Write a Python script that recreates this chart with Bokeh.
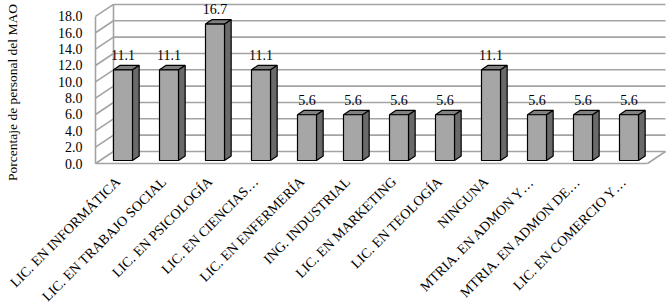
import math
from bokeh.plotting import figure
from bokeh.models import Range1d, FixedTicker, PrintfTickFormatter
from bokeh.core.properties import value
from bokeh.embed import file_html
from bokeh.resources import INLINE

# ---- data ----
categories = ["LIC. EN INFORMÁTICA", "LIC. EN TRABAJO SOCIAL", "LIC. EN PSICOLOGÍA",
              "LIC. EN CIENCIAS…", "LIC. EN ENFERMERÍA", "ING. INDUSTRIAL",
              "LIC. EN MARKETING", "LIC. EN TEOLOGÍA", "NINGUNA",
              "MTRIA. EN ADMON Y…", "MTRIA. EN ADMON DE…", "LIC. EN COMERCIO Y…"]
values = [11.1, 11.1, 16.7, 11.1, 5.6, 5.6, 5.6, 5.6, 11.1, 5.6, 5.6, 5.6]
y_ticks = [0, 2, 4, 6, 8, 10, 12, 14, 16, 18]
y_title = "Porcentaje de personal del MAO"

# ---- geometry (pseudo 3D) ----
W, H = 666, 304
CW = 46.0        # px per category
K = 8.17         # px per value unit
DX = 18 / CW     # depth offset in x units
DY = 12 / K      # depth offset in y units
F0, FD = 0.25, 0.37   # bar depth start / thickness (fraction of depth)
BW = 19 / CW     # bar front width
LAB_SHIFT = 5 / CW    # category label anchor sits a little left of the bar centre
N = len(categories)
YMAX = y_ticks[-1]
C0 = -0.5 - F0 * DX + LAB_SHIFT   # front-left corner of the floor (label i anchored at x = i)

xmin = C0 - 95 / CW
ymin = -(H - 163) / K

FONT = "Liberation Serif"
FS = "14px"

p = figure(width=W, height=H, output_backend="svg", toolbar_location=None, title=None,
           x_range=Range1d(xmin, xmin + W / CW),
           y_range=Range1d(ymin, ymin + H / K),
           min_border_left=0, min_border_right=0, min_border_top=0, min_border_bottom=0)
p.outline_line_color = None
p.xgrid.visible = False
p.ygrid.visible = False

ya = p.yaxis[0]
ya.fixed_location = C0
ya.ticker = FixedTicker(ticks=y_ticks)
ya.formatter = PrintfTickFormatter(format="%.1f")
ya.axis_line_color = None
ya.major_tick_line_color = None
ya.minor_tick_line_color = None
ya.major_tick_out = 0
ya.major_label_standoff = 13
ya.major_label_text_font = FONT
ya.major_label_text_font_size = FS
ya.major_label_text_color = "black"

xa = p.xaxis[0]
xa.fixed_location = -14 / K
xa.ticker = FixedTicker(ticks=list(range(N)))
xa.major_label_overrides = {i: c for i, c in enumerate(categories)}
xa.major_label_orientation = math.pi / 4
xa.axis_line_color = None
xa.major_tick_line_color = None
xa.minor_tick_line_color = None
xa.major_tick_out = 0
xa.major_label_standoff = 2
xa.major_label_text_font = FONT
xa.major_label_text_font_size = FS
xa.major_label_text_color = "black"

grid_color = "#a3a3a3"
# back wall gridlines
p.multi_line(xs=[[C0 + DX, C0 + N + DX] for t in y_ticks], ys=[[t + DY, t + DY] for t in y_ticks],
             line_color=grid_color, line_width=1.6)
# side wall diagonals
p.multi_line(xs=[[C0, C0 + DX] for t in y_ticks], ys=[[t, t + DY] for t in y_ticks],
             line_color=grid_color, line_width=1.6)
# wall / floor edges
p.multi_line(xs=[[C0, C0], [C0 + DX, C0 + DX], [C0, C0 + N], [C0 + N, C0 + N + DX]],
             ys=[[0, YMAX], [DY, YMAX + DY], [0, 0], [0, DY]],
             line_color=grid_color, line_width=1.6)

# bars
bar_x = [i + LAB_SHIFT for i in range(N)]
fx, fy, sx, sy, tx, ty = [], [], [], [], [], []
for c, v in zip(bar_x, values):
    xl, xr = c - BW / 2, c + BW / 2
    b = F0 * DY
    t = v + F0 * DY
    ox, oy = FD * DX, FD * DY
    fx.append([xl, xr, xr, xl]); fy.append([b, b, t, t])
    sx.append([xr, xr + ox, xr + ox, xr]); sy.append([b, b + oy, t + oy, t])
    tx.append([xl, xr, xr + ox, xl + ox]); ty.append([t, t, t + oy, t + oy])

p.patches(sx, sy, fill_color="#6a6a6a", line_color="black", line_width=1.2)
p.patches(tx, ty, fill_color="#808080", line_color="black", line_width=1.2)
p.patches(fx, fy, fill_color="#a6a6a6", line_color="black", line_width=1.2)

# value labels
p.text(x=bar_x, y=[v + F0 * DY for v in values], text=[f"{v:.1f}" for v in values],
       text_align="center", text_baseline="middle", y_offset=-15,
       text_font=value(FONT), text_font_size=FS, text_color="black")

# y axis title
p.text(x=[C0 + (12 - 95) / CW], y=[(163 - 92) / K], text=[y_title], angle=math.pi / 2,
       text_align="center", text_baseline="middle",
       text_font=value(FONT), text_font_size="13.5px", text_color="black")

open("out.html", "w").write(file_html(p, INLINE))
